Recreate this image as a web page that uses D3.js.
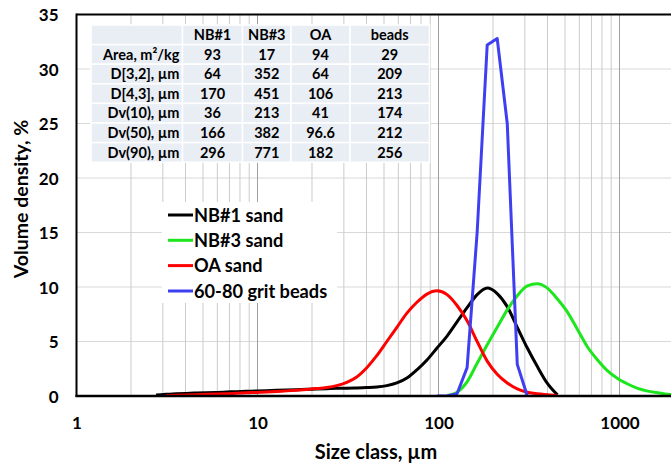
<!DOCTYPE html>
<html>
<head>
<meta charset="utf-8">
<script src="https://cdn.jsdelivr.net/npm/d3@7"></script>
<style>
  html, body { margin: 0; padding: 0; background: #fff; }
  svg { display: block; }
  text { font-family: Lato, "Open Sans", "Liberation Sans", sans-serif; font-weight: bold; fill: #000; }
</style>
</head>
<body>
<svg id="chart" width="671" height="463"></svg>
<script>
// ---------- DATA ----------
const sizes = [2.750, 3.125, 3.550, 4.034, 4.583, 5.207, 5.916, 6.722, 7.637, 8.677, 9.858, 11.20, 12.73, 14.46, 16.43, 18.66, 21.21, 24.09, 27.37, 31.11, 35.34, 40.15, 45.61, 51.82, 58.88, 66.90, 76.00, 86.36, 98.12, 111.5, 126.6, 143.9, 163.5, 185.8, 211.0, 239.8, 272.4, 309.6, 351.7, 399.6, 454.0, 515.8, 586.1, 665.9, 756.6, 859.6, 976.5, 1109, 1260, 1432, 1627, 1849, 2100, 2387];

const nb1 = [0.10, 0.15, 0.20, 0.24, 0.27, 0.30, 0.33, 0.36, 0.40, 0.43, 0.46, 0.49, 0.52, 0.55, 0.58, 0.61, 0.64, 0.67, 0.70, 0.72, 0.74, 0.77, 0.82, 0.95, 1.2, 1.65, 2.4, 3.3, 4.4, 5.5, 6.8, 8.1, 9.3, 9.9, 9.4, 8.2, 6.3, 4.4, 2.7, 1.15, 0.1,
  null, null, null, null, null, null, null, null, null, null, null, null, null];
const nb3 = [null, null, null, null, null, null, null, null, null, null, null, null, null, null, null, null, null, null, null, null, null, null, null, null, null, null, null, null, null,
  0.05, 0.35, 1.3, 3.0, 4.7, 6.3, 7.9, 9.2, 10.1, 10.3, 9.9, 8.9, 7.7, 6.1, 4.5, 3.3, 2.3, 1.6, 1.1, 0.7, 0.45, 0.3, 0.15, 0.1, 0.05];
const oa = [null, 0.03, 0.06, 0.09, 0.12, 0.15, 0.18, 0.21, 0.25, 0.29, 0.33, 0.37, 0.42, 0.47, 0.53, 0.60, 0.68, 0.78, 0.95, 1.25, 1.75, 2.6, 3.7, 5.0, 6.3, 7.6, 8.6, 9.35, 9.65, 9.3, 8.3, 6.9, 5.0, 3.2, 2.0, 1.2, 0.65, 0.35, 0.2, 0.12, 0.05,
  null, null, null, null, null, null, null, null, null, null, null, null, null];
const beads = [null, null, null, null, null, null, null, null, null, null, null, null, null, null, null, null, null, null, null, null, null, null, null, null, null, null, null, null,
  0, 0, 0.2, 2.6, 15, 32.2, 32.8, 25.0, 2.9, 0,
  null, null, null, null, null, null, null, null, null, null, null, null, null, null, null, null];

const seriesNames = ["NB#1 sand", "NB#3 sand", "OA sand", "60-80 grit beads"];
const seriesColors = ["#000000", "#1ee61e", "#ff0000", "#3f3ff2"];

const xTickValues = [1, 10, 100, 1000];
const yTickValues = [0, 5, 10, 15, 20, 25, 30, 35];

const tableHeader = ["", "NB#1", "NB#3", "OA", "beads"];
const tableRowLabels = ["Area, m\u00B2/kg", "D[3,2], \u00B5m", "D[4,3], \u00B5m", "Dv(10), \u00B5m", "Dv(50), \u00B5m", "Dv(90), \u00B5m"];
const tableNB1 = ["93", "64", "170", "36", "166", "296"];
const tableNB3 = ["17", "352", "451", "213", "382", "771"];
const tableOA = ["94", "64", "106", "41", "96.6", "182"];
const tableBeads = ["29", "209", "213", "174", "212", "256"];

// ---------- LAYOUT ----------
const svg = d3.select("#chart");
const pLeft = 76.5, pTop = 14.5, pBottom = 396;
const decade = 181;
const W = 671;
const x = d3.scaleLog().domain([1, 10000]).range([pLeft, pLeft + 4 * decade]);
const y = d3.scaleLinear().domain([0, 35]).range([pBottom, pTop]);

// grid
const gGrid = svg.append("g");
gGrid.selectAll("line.h").data(yTickValues.filter(d => d > 0 && d < 35)).join("line")
  .attr("x1", pLeft).attr("x2", W).attr("y1", d => y(d)).attr("y2", d => y(d))
  .attr("stroke", "#d9d9d9").attr("stroke-width", 1);
const vTicks = x.ticks().filter(d => d > 1 && x(d) < W);
gGrid.selectAll("line.v").data(vTicks).join("line")
  .attr("x1", d => x(d)).attr("x2", d => x(d)).attr("y1", pTop).attr("y2", pBottom)
  .attr("stroke", d => xTickValues.includes(d) ? "#a0a0a0" : "#cbcbcb").attr("stroke-width", 1);

// table (drawn over grid)
const colEdges = [91, 182.5, 242.5, 291, 350, 429.5];
const rowTop = 25, rowH = 19.6;
const tableCols = [null, tableNB1, tableNB3, tableOA, tableBeads];
const gT = svg.append("g");
for (let r = 0; r < 7; r++) {
  for (let c = 0; c < 5; c++) {
    gT.append("rect")
      .attr("x", colEdges[c]).attr("y", rowTop + r * rowH)
      .attr("width", colEdges[c + 1] - colEdges[c]).attr("height", rowH)
      .attr("fill", "#e9edf4").attr("stroke", "#ffffff").attr("stroke-width", 1.5);
    let txt;
    if (r === 0) txt = tableHeader[c];
    else if (c === 0) txt = tableRowLabels[r - 1];
    else txt = tableCols[c][r - 1];
    const t = gT.append("text")
      .attr("y", rowTop + r * rowH + rowH / 2)
      .attr("dy", "0.36em")
      .style("font-size", "14.5px")
      .text(txt);
    if (c === 0) t.attr("x", colEdges[1] - 3).attr("text-anchor", "end");
    else t.attr("x", (colEdges[c] + colEdges[c + 1]) / 2).attr("text-anchor", "middle");
  }
}

// legend box (white, over grid)
svg.append("rect").attr("x", 162).attr("y", 202).attr("width", 175).attr("height", 101).attr("fill", "#fff");

// lines
const defs = svg.append("defs");
defs.append("clipPath").attr("id", "clip").append("rect")
  .attr("x", pLeft).attr("y", pTop - 5).attr("width", W - pLeft).attr("height", pBottom - pTop + 5);
const allSeries = [nb1, nb3, oa, beads];
const gL = svg.append("g").attr("clip-path", "url(#clip)");
allSeries.forEach((vals, i) => {
  const pts = sizes.map((s, j) => [s, vals[j]]);
  const line = d3.line()
    .defined(d => d[1] !== null)
    .x(d => x(d[0])).y(d => y(d[1]))
    .curve(i === 3 ? d3.curveLinear : d3.curveMonotoneX);
  gL.append("path").datum(pts).attr("d", line)
    .attr("fill", "none").attr("stroke", seriesColors[i]).attr("stroke-width", 3)
    .attr("stroke-linejoin", "round");
});

// frame
svg.append("line").attr("x1", pLeft).attr("x2", W).attr("y1", pTop).attr("y2", pTop).attr("stroke", "#000").attr("stroke-width", 2);
svg.append("line").attr("x1", pLeft).attr("x2", pLeft).attr("y1", pTop - 1).attr("y2", pBottom + 1).attr("stroke", "#000").attr("stroke-width", 2);
svg.append("line").attr("x1", pLeft - 1).attr("x2", W).attr("y1", pBottom).attr("y2", pBottom).attr("stroke", "#000").attr("stroke-width", 2.5);

// axes labels
const xAxis = d3.axisBottom(x).tickValues(xTickValues).tickFormat(d3.format("d")).tickSize(0).tickPadding(0);
const gx = svg.append("g").attr("transform", `translate(0,${pBottom})`).call(xAxis);
gx.select(".domain").remove();
gx.attr("font-family", null).attr("font-size", null);
gx.selectAll("text").attr("y", 27).attr("dy", "0.36em").style("font-size", "17px");

const yAxis = d3.axisLeft(y).tickValues(yTickValues).tickSize(0).tickPadding(0);
const gy = svg.append("g").attr("transform", `translate(${pLeft},0)`).call(yAxis);
gy.select(".domain").remove();
gy.attr("font-family", null).attr("font-size", null);
gy.selectAll("text").attr("x", -18).attr("dy", "0.36em").style("font-size", "17px");

svg.append("text").attr("x", 376).attr("y", 452).attr("dy", "0.36em").attr("text-anchor", "middle")
  .style("font-size", "20px").text("Size class, \u00B5m");
svg.append("text").attr("transform", "translate(21,199) rotate(-90)").attr("dy", "0.36em").attr("text-anchor", "middle")
  .style("font-size", "19.5px").text("Volume density, %");

// legend
const legendY = [215, 240.3, 265.6, 291];
const gLeg = svg.append("g");
seriesNames.forEach((name, i) => {
  gLeg.append("line").attr("x1", 168).attr("x2", 193).attr("y1", legendY[i]).attr("y2", legendY[i])
    .attr("stroke", seriesColors[i]).attr("stroke-width", 3);
  gLeg.append("text").attr("x", 194).attr("y", legendY[i]).attr("dy", "0.36em")
    .style("font-size", "18.2px").text(name);
});
</script>
</body>
</html>
